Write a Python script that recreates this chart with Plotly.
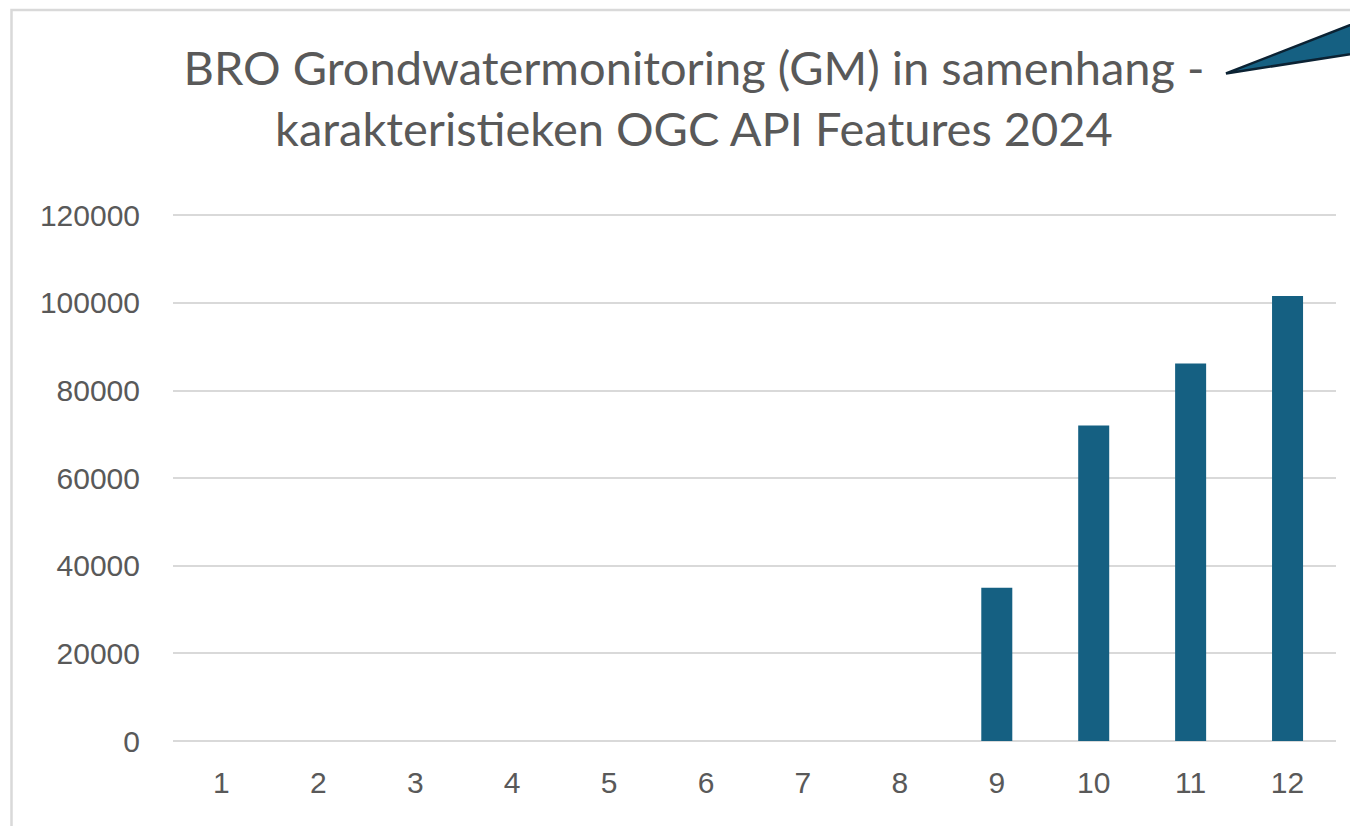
import plotly.graph_objects as go

months = [1, 2, 3, 4, 5, 6, 7, 8, 9, 10, 11, 12]
values = [None, None, None, None, None, None, None, None, 35000, 72000, 86200, 101600]
y_ticks = [0, 20000, 40000, 60000, 80000, 100000, 120000]
title_text = "BRO Grondwatermonitoring (GM) in samenhang -<br>karakteristieken OGC API Features 2024"

W, H = 1358, 826
O = 8  # page offset of the figure (body margin)
# plot area in page pixels
L, R, T0, B = 173, 1336, 215, 741
YMAX = 120300
T = B - (B - T0) * YMAX / 120000

def px(x):
    return (x - L) / (R - L)

def py(y):
    return (B - y) / (B - T)

fig = go.Figure()
fig.add_trace(go.Bar(
    x=months, y=values,
    marker=dict(color="#156082", line=dict(width=0)),
    width=0.32,
))

fig.update_layout(
    width=W, height=H,
    margin=dict(l=L - O, r=W - (R - O), t=T - O, b=H - (B - O)),
    paper_bgcolor="white", plot_bgcolor="white",
    showlegend=False,
    title=dict(
        text=title_text,
        font=dict(family="Lato", size=47, color="#595959"),
        x=(694 - O) / W, xanchor="center", xref="container",
        y=1 - 77 / H, yanchor="top", yref="container",
    ),
    xaxis=dict(
        range=[0.5, 12.5], tickmode="array", tickvals=months,
        ticktext=[str(m) for m in months],
        showgrid=False, zeroline=False, showline=False,
        tickfont=dict(family="Liberation Sans", size=30, color="#595959"),
        ticklabelstandoff=21,
    ),
    yaxis=dict(
        range=[0, YMAX], tickmode="array", tickvals=y_ticks,
        ticktext=[str(v) for v in y_ticks],
        showgrid=True, gridcolor="#d9d9d9", gridwidth=2,
        zeroline=True, zerolinecolor="#d9d9d9", zerolinewidth=2,
        showline=False,
        tickfont=dict(family="Liberation Sans", size=30, color="#595959"),
        ticklabelstandoff=32,
    ),
    shapes=[
        dict(type="rect", xref="paper", yref="paper",
             x0=px(11.5), x1=px(1400), y0=py(900), y1=py(9.5),
             line=dict(color="#d9d9d9", width=2.5), fillcolor="rgba(0,0,0,0)",
             layer="below"),
        dict(type="path", xref="paper", yref="paper",
             path=f"M {px(1226)} {py(73)} L {px(1375)} {py(15)} L {px(1375)} {py(50)} Z",
             fillcolor="#156082", line=dict(color="#0b2233", width=2.5)),
    ],
)

fig.write_html("out.html")
